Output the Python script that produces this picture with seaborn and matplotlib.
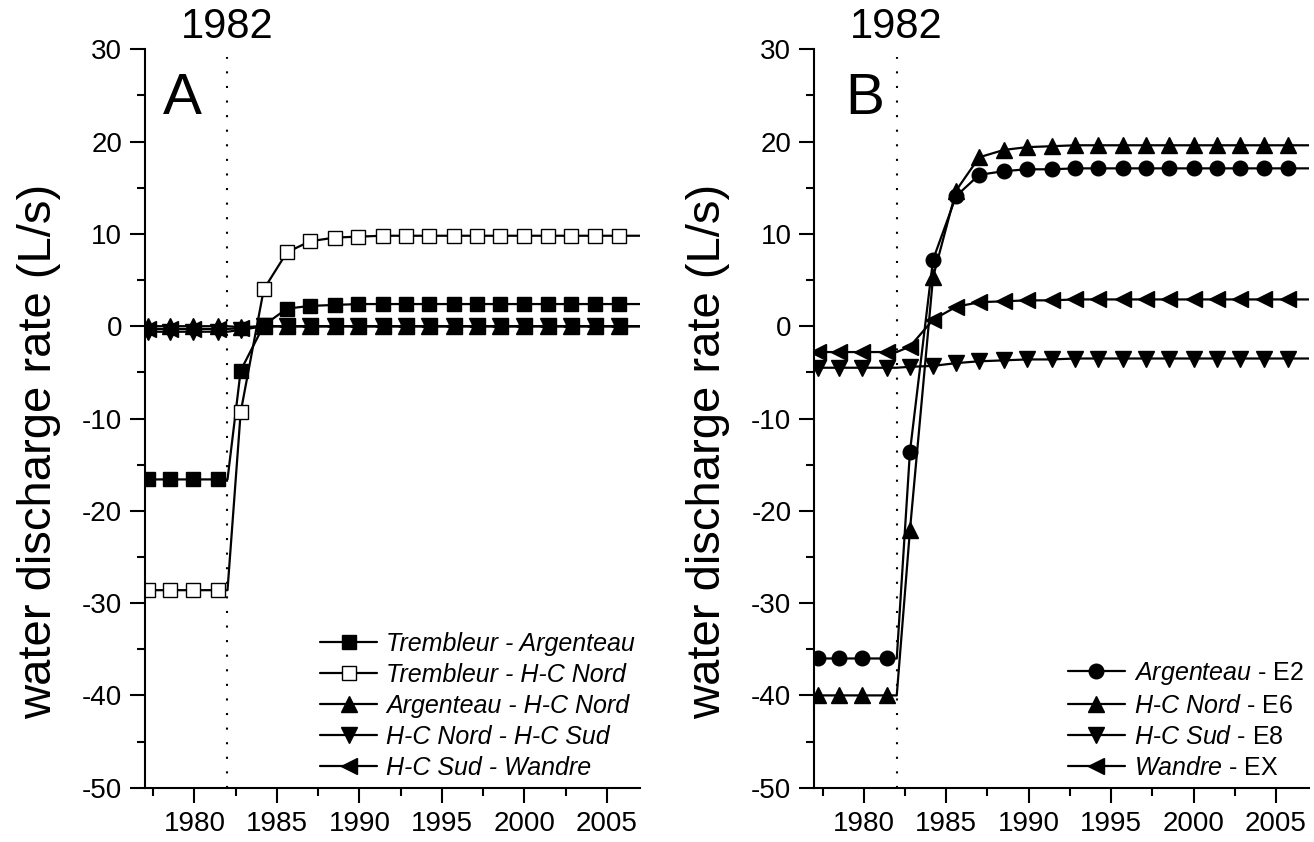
import matplotlib
matplotlib.use("Agg")
import matplotlib.pyplot as plt
from matplotlib.ticker import MultipleLocator
import seaborn as sns

# sampling years (markers) and line vertices (marker years + start of the 1982 step + end of run)
mark_years = [1977.2, 1978.5, 1979.9, 1981.4, 1982.8, 1984.2, 1985.6, 1987.0, 1988.5,
              1989.9, 1991.4, 1992.8, 1994.2, 1995.7, 1997.1, 1998.5, 2000.0, 2001.4,
              2002.8, 2004.3, 2005.7]
line_years = mark_years[:4] + [1982.0] + mark_years[4:] + [2007.0]

# panel A
labels_a = ["Trembleur - Argenteau", "Trembleur - H-C Nord", "Argenteau - H-C Nord",
            "H-C Nord - H-C Sud", "H-C Sud - Wandre"]
trem_arg = [-16.6, -16.6, -16.6, -16.6, -16.6, -4.8, 0.1, 1.9, 2.2, 2.3, 2.4, 2.4, 2.4,
            2.4, 2.4, 2.4, 2.4, 2.4, 2.4, 2.4, 2.4, 2.4, 2.4]
trem_hcn = [-28.6, -28.6, -28.6, -28.6, -28.6, -9.3, 4.0, 8.0, 9.2, 9.6, 9.7, 9.8, 9.8,
            9.8, 9.8, 9.8, 9.8, 9.8, 9.8, 9.8, 9.8, 9.8, 9.8]
arg_hcn = [0.0, 0.0, 0.0, 0.0, 0.0, -0.1, 0.0, 0.0, 0.0, 0.0, 0.0, 0.0, 0.0, 0.0, 0.0,
           0.0, 0.0, 0.0, 0.0, 0.0, 0.0, 0.0, 0.0]
hcn_hcs = [-0.6, -0.6, -0.6, -0.6, -0.6, -0.4, 0.0, 0.0, 0.0, 0.0, 0.0, 0.0, 0.0, 0.0,
           0.0, 0.0, 0.0, 0.0, 0.0, 0.0, 0.0, 0.0, 0.0]
hcs_wan = [-0.3, -0.3, -0.3, -0.3, -0.3, -0.2, 0.0, 0.0, 0.0, 0.0, 0.0, 0.0, 0.0, 0.0,
           0.0, 0.0, 0.0, 0.0, 0.0, 0.0, 0.0, 0.0, 0.0]

# panel B
labels_b = [r"$\mathit{Argenteau}$ - E2", r"$\mathit{H}$-$\mathit{C\ Nord}$ - E6",
            r"$\mathit{H}$-$\mathit{C\ Sud}$ - E8", r"$\mathit{Wandre}$ - EX"]
arg_e2 = [-36.0, -36.0, -36.0, -36.0, -36.0, -13.6, 7.2, 14.1, 16.4, 16.8, 17.0, 17.0,
          17.1, 17.1, 17.1, 17.1, 17.1, 17.1, 17.1, 17.1, 17.1, 17.1, 17.1]
hcn_e6 = [-40.0, -40.0, -40.0, -40.0, -40.0, -22.1, 5.3, 14.7, 18.3, 19.1, 19.4, 19.5,
          19.6, 19.6, 19.6, 19.6, 19.6, 19.6, 19.6, 19.6, 19.6, 19.6, 19.6]
hcs_e8 = [-4.5, -4.5, -4.5, -4.5, -4.5, -4.4, -4.3, -4.0, -3.8, -3.7, -3.6, -3.6, -3.5,
          -3.5, -3.5, -3.5, -3.5, -3.5, -3.5, -3.5, -3.5, -3.5, -3.5]
wan_ex = [-2.8, -2.8, -2.8, -2.8, -2.8, -2.2, 0.7, 2.1, 2.6, 2.7, 2.8, 2.8, 2.9, 2.9,
          2.9, 2.9, 2.9, 2.9, 2.9, 2.9, 2.9, 2.9, 2.9]

sns.set_style("ticks")
plt.rcParams["font.family"] = ["Liberation Sans", "DejaVu Sans"]
plt.rcParams["mathtext.fontset"] = "custom"
plt.rcParams["mathtext.rm"] = "Liberation Sans"
plt.rcParams["mathtext.it"] = "Liberation Sans:italic"
plt.rcParams["axes.unicode_minus"] = False
plt.rcParams["text.color"] = "black"
plt.rcParams["axes.labelcolor"] = "black"

marker_idx = [i for i in range(len(line_years)) if line_years[i] in mark_years]

fig = plt.figure(figsize=(13.14, 8.42), dpi=100)
ax_a = fig.add_axes([145 / 1314, 54.3 / 842, 495 / 1314, 738.4 / 842])
ax_b = fig.add_axes([814.3 / 1314, 54.3 / 842, 494.7 / 1314, 738.4 / 842])


def draw_series(ax, values, marker, label, face="black", ms=11):
    sns.lineplot(x=line_years, y=values, ax=ax, color="black", lw=1.6,
                 marker=marker, markersize=ms, markevery=marker_idx,
                 markerfacecolor=face, markeredgecolor="black", markeredgewidth=1.0,
                 label=label, legend=False)


draw_series(ax_a, trem_arg, "s", labels_a[0], ms=10.5)
draw_series(ax_a, trem_hcn, "s", labels_a[1], face="white", ms=10.5)
draw_series(ax_a, arg_hcn, "^", labels_a[2])
draw_series(ax_a, hcn_hcs, "v", labels_a[3])
draw_series(ax_a, hcs_wan, "<", labels_a[4])

draw_series(ax_b, arg_e2, "o", labels_b[0], ms=10.5)
draw_series(ax_b, hcn_e6, "^", labels_b[1])
draw_series(ax_b, hcs_e8, "v", labels_b[2])
draw_series(ax_b, wan_ex, "<", labels_b[3])

for ax, letter, lx in [(ax_a, "A", 0.036), (ax_b, "B", 0.062)]:
    handles, labs = ax.get_legend_handles_labels()
    ax.axvline(1982, color="black", lw=1.5, linestyle=(0, (1, 6)), ymax=0.99)
    ax.set_xlim(1977, 2007)
    ax.set_ylim(-50, 30)
    ax.xaxis.set_major_locator(MultipleLocator(5))
    ax.xaxis.set_minor_locator(MultipleLocator(2.5))
    ax.yaxis.set_major_locator(MultipleLocator(10))
    ax.yaxis.set_minor_locator(MultipleLocator(5))
    ax.tick_params(which="major", direction="out", length=10.5, width=1.5,
                   labelsize=20, pad=6, color="black", labelcolor="black")
    ax.tick_params(which="minor", direction="out", length=5.5, width=1.5, color="black")
    ax.set_xlabel("")
    ax.set_ylabel("water discharge rate (L/s)", fontsize=34)
    ax.yaxis.set_label_coords(-0.17, 0.455)
    sns.despine(ax=ax)
    for sp in ["left", "bottom"]:
        ax.spines[sp].set_linewidth(1.5)
        ax.spines[sp].set_color("black")
    ax.annotate("1982", xy=(1982, 1.0), xycoords=("data", "axes fraction"),
                xytext=(0, 16), textcoords="offset points", ha="center", va="center",
                fontsize=30, annotation_clip=False)
    ax.text(lx, 0.933, letter, transform=ax.transAxes, fontsize=42,
            ha="left", va="center")
    leg_kw = dict(loc="lower right", bbox_to_anchor=(1.02, -0.01), frameon=False,
                  fontsize=18, handlelength=2.3, handletextpad=0.35, labelspacing=0.28,
                  borderaxespad=0.2)
    if ax is ax_a:
        leg_kw["prop"] = {"style": "italic", "size": 18}
        leg_kw.pop("fontsize")
    ax.legend(handles, labs, **leg_kw)

fig.savefig("out.png", dpi=100)
